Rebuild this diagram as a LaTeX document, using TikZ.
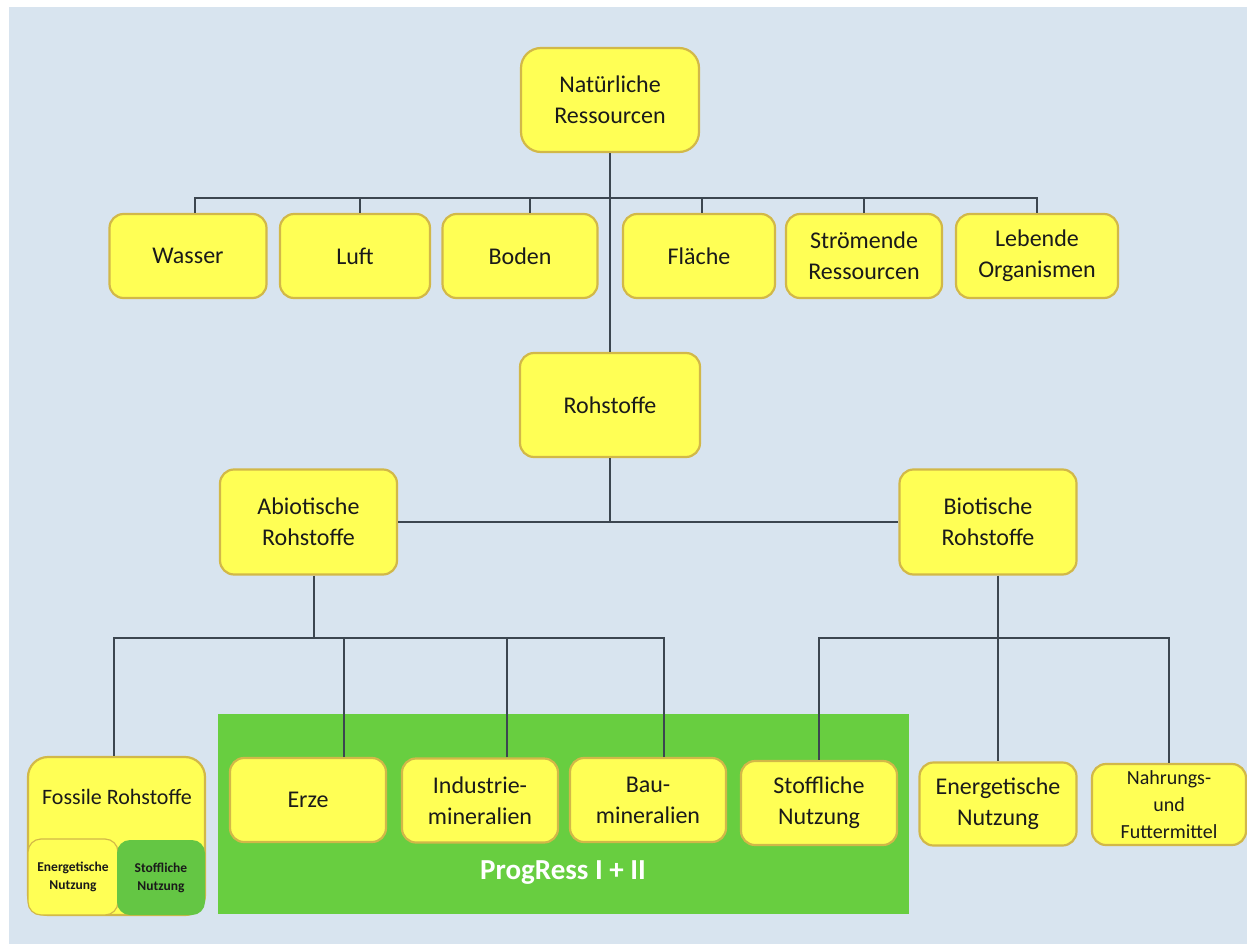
\documentclass[tikz,border=0pt]{standalone}
\usepackage{fontspec}
\setmainfont{Carlito}
\definecolor{bg}{HTML}{D8E4EF}
\definecolor{yel}{HTML}{FFFF55}
\definecolor{gold}{HTML}{D2B848}
\definecolor{linec}{HTML}{3C4650}
\definecolor{grn}{HTML}{68CE40}
\definecolor{grn2}{HTML}{64C644}
\definecolor{txt}{HTML}{1A1A1A}
\begin{document}
\begin{tikzpicture}[x=1pt,y=-1pt,
  box/.style={rectangle, rounded corners=14pt, draw=gold, line width=2.2pt, fill=yel, text=txt, align=center, inner sep=0pt, font=\fontsize{24}{31}\selectfont},
  conn/.style={draw=linec, line width=2.4pt},
  small/.style={font=\bfseries\fontsize{13.5}{18}\selectfont, text=txt, align=center, inner sep=0pt}]
\useasboundingbox (0,0) rectangle (1247,944);
\fill[white] (0,0) rectangle (1247,944);
\fill[bg] (9,7) rectangle (1247,944);

% green ProgRess area
\node[fill=grn, minimum width=691pt, minimum height=200pt, inner sep=0pt] (prog) at (563.5,813.5) {};
\node[text=white, font=\bfseries\fontsize{29}{29}\selectfont, inner sep=0pt] (progtxt) at (563,873) {ProgRess I + II};

% top
\node[box, rounded corners=20pt, minimum width=178pt, minimum height=104pt] (nat) at (610,100) {Natürliche\\Ressourcen};

% row 2
\node[box, minimum width=157pt, minimum height=84pt] (wasser) at (188,256) {Wasser};
\node[box, minimum width=150pt, minimum height=84pt] (luft) at (355,256) {Luft};
\node[box, minimum width=155pt, minimum height=84pt] (boden) at (520,256) {Boden};
\node[box, minimum width=152pt, minimum height=84pt] (flaeche) at (699,256) {Fläche};
\node[box, minimum width=156pt, minimum height=84pt] (stroem) at (864,256) {Strömende\\Ressourcen};
\node[box, minimum width=162pt, minimum height=84pt] (leb) at (1037,256) {Lebende\\Organismen};

% Rohstoffe
\node[box, minimum width=180pt, minimum height=104pt] (roh) at (610,405) {Rohstoffe};
\node[box, minimum width=177pt, minimum height=105pt] (abio) at (308.5,522) {Abiotische\\Rohstoffe};
\node[box, minimum width=177pt, minimum height=105pt] (bio) at (988,522) {Biotische\\Rohstoffe};

% bottom row
\node[box, rounded corners=20pt, minimum width=177pt, minimum height=158pt] (foss) at (116.5,836) {};
\node[font=\fontsize{22}{26}\selectfont, text=txt, inner sep=0pt] (fosstxt) at (117,797) {Fossile Rohstoffe};
\node[box, small, rounded corners=13pt, line width=1.2pt, minimum width=90pt, minimum height=76pt] (fen) at (73,877) {Energetische\\Nutzung};
\node[small, fill=grn2, rounded corners=13pt, minimum width=88pt, minimum height=75pt] (fst) at (161,877.5) {Stoffliche\\Nutzung};

\node[box, minimum width=156pt, minimum height=84pt] (erze) at (308,800) {Erze};
\node[box, minimum width=156pt, minimum height=84pt] (indu) at (480,800.5) {Industrie-\\mineralien};
\node[box, minimum width=156pt, minimum height=84pt] (bau) at (648,800) {Bau-\\mineralien};
\node[box, minimum width=156pt, minimum height=84pt] (stn) at (819,803) {Stoffliche\\Nutzung};
\node[box, minimum width=157pt, minimum height=83pt] (enn) at (998,804) {Energetische\\Nutzung};
\node[box, font=\fontsize{20}{27}\selectfont, minimum width=154pt, minimum height=81pt] (nahr) at (1169,804.5) {Nahrungs-\\und\\Futtermittel};

% bus coordinates
\coordinate (bus1) at (610,198);
\coordinate (bus2) at (314,638);
\coordinate (bus3) at (998,638);

% connectors
\draw[conn] (nat.south) -- (roh.north);
\draw[conn] ([xshift=7pt]wasser.north) |- (bus1) -| (leb.north);
\draw[conn] ([xshift=5pt]luft.north) |- (bus1);
\draw[conn] ([xshift=10pt]boden.north) |- (bus1);
\draw[conn] ([xshift=3pt]flaeche.north) |- (bus1);
\draw[conn] (stroem.north) |- (bus1);

\draw[conn] (roh.south) -- (roh.south |- abio.east);
\draw[conn] (abio.east) -- (bio.west);

\draw[conn] ([xshift=5.5pt]abio.south) -- (bus2);
\draw[conn] ([xshift=-2.5pt]foss.north) |- (bus2) -| ([xshift=16pt]bau.north);
\draw[conn] ([xshift=36pt]erze.north) |- (bus2);
\draw[conn] ([xshift=27pt]indu.north) |- (bus2);

\draw[conn] ([xshift=10pt]bio.south) -- (enn.north);
\draw[conn] (stn.north) |- (bus3) -| (nahr.north);
\end{tikzpicture}
\end{document}
